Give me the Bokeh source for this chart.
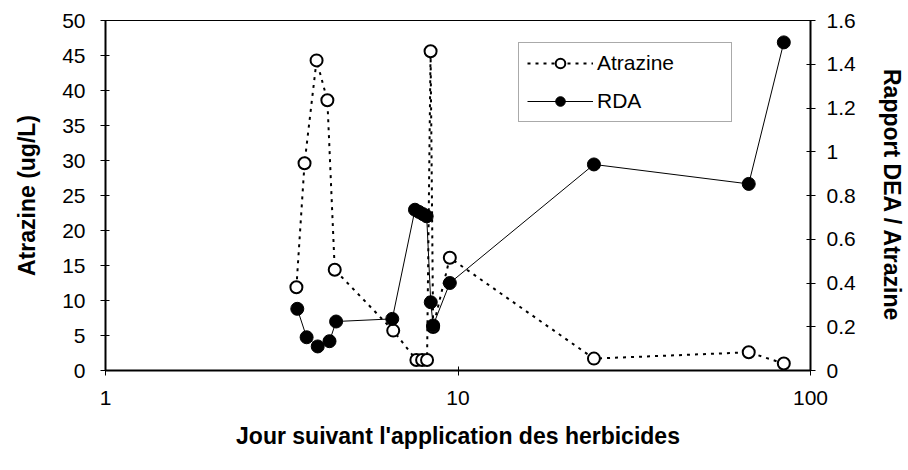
from bokeh.plotting import figure
from bokeh.models import Range1d, LinearAxis, FixedTicker, Legend, LegendItem
from bokeh.embed import file_html
from bokeh.resources import INLINE

# ---- data ----
atrazine_days = [3.48, 3.67, 3.97, 4.26, 4.47, 6.55, 7.62, 7.91, 8.17, 8.36, 8.50, 9.48, 24.3, 66.8, 84.0]
atrazine_conc = [11.9, 29.6, 44.3, 38.6, 14.4, 5.7, 1.5, 1.5, 1.5, 45.6, 6.2, 16.1, 1.7, 2.6, 1.0]

rda_days = [3.50, 3.72, 4.00, 4.32, 4.51, 6.51, 7.55, 7.75, 7.95, 8.15, 8.37, 8.50, 9.48, 24.3, 66.8, 84.0]
rda_ratio = [0.282, 0.152, 0.110, 0.134, 0.224, 0.236, 0.735, 0.725, 0.715, 0.705, 0.312, 0.206, 0.400, 0.942, 0.853, 1.50]

x_ticks = [1, 10, 100]
x_tick_labels = ["1", "10", "100"]
left_ticks = [0, 5, 10, 15, 20, 25, 30, 35, 40, 45, 50]
left_tick_labels = ["0", "5", "10", "15", "20", "25", "30", "35", "40", "45", "50"]
right_ticks = [0, 0.2, 0.4, 0.6, 0.8, 1.0, 1.2, 1.4, 1.6]
right_tick_labels = ["0", "0.2", "0.4", "0.6", "0.8", "1", "1.2", "1.4", "1.6"]

FONT = "Liberation Sans"
TICK_SIZE = "21px"
TITLE_SIZE = "23px"

p = figure(width=908, height=470, x_axis_type="log",
           x_range=Range1d(1, 100), y_range=Range1d(0, 50),
           output_backend="svg", toolbar_location=None,
           min_border_left=105, min_border_right=98,
           min_border_top=20, min_border_bottom=100)
p.extra_y_ranges = {"rda": Range1d(0, 1.6)}
p.xgrid.visible = False
p.ygrid.visible = False
p.outline_line_color = "black"
p.outline_line_width = 1
p.background_fill_color = "white"
p.border_fill_color = "white"

# x axis
xa = p.xaxis[0]
xa.ticker = FixedTicker(ticks=x_ticks)
xa.major_label_overrides = {t: l for t, l in zip(x_ticks, x_tick_labels)}
xa.axis_label = "Jour suivant l'application des herbicides"

# left axis
ya = p.yaxis[0]
ya.ticker = FixedTicker(ticks=left_ticks)
ya.major_label_overrides = {t: l for t, l in zip(left_ticks, left_tick_labels)}
ya.axis_label = "Atrazine (ug/L)"

# right axis
ra = LinearAxis(y_range_name="rda", axis_label="Rapport DEA / Atrazine")
ra.ticker = FixedTicker(ticks=right_ticks)
ra.major_label_overrides = {t: l for t, l in zip(right_ticks, right_tick_labels)}
p.add_layout(ra, "right")

for ax in (xa, ya, ra):
    ax.axis_line_color = "black"
    ax.axis_line_width = 2
    ax.major_tick_line_color = "black"
    ax.major_tick_in = 4
    ax.major_tick_out = 5
    ax.minor_tick_line_color = None
    ax.major_label_text_font = FONT
    ax.major_label_text_font_size = TICK_SIZE
    ax.major_label_text_color = "black"
    ax.axis_label_text_font = FONT
    ax.axis_label_text_font_size = TITLE_SIZE
    ax.axis_label_text_font_style = "bold"
    ax.axis_label_text_color = "black"

xa.major_label_standoff = 15
xa.axis_label_standoff = 15
ya.major_label_standoff = 15
ya.axis_label_standoff = 19
ra.major_label_standoff = 11
ra.axis_label_standoff = 20

# Atrazine series (dotted, open circles)
l_atr = p.line(atrazine_days, atrazine_conc, line_color="black", line_width=2, line_dash="3 5")
s_atr = p.scatter(atrazine_days, atrazine_conc, marker="circle", size=12,
                  fill_color="white", line_color="black", line_width=2)

# RDA series (solid, filled circles) on right axis
l_rda = p.line(rda_days, rda_ratio, line_color="black", line_width=1, y_range_name="rda")
s_rda = p.scatter(rda_days, rda_ratio, marker="circle", size=13,
                  fill_color="black", line_color="black", y_range_name="rda")

legend = Legend(items=[LegendItem(label="Atrazine", renderers=[l_atr, s_atr]),
                       LegendItem(label="RDA", renderers=[l_rda, s_rda])],
                location=(413, 248))
legend.label_text_font = FONT
legend.label_text_font_size = TICK_SIZE
legend.label_text_color = "black"
legend.glyph_width = 66
legend.glyph_height = 24
legend.label_standoff = 4
legend.label_width = 126
legend.spacing = 14
legend.padding = 8
legend.margin = 0
legend.border_line_color = "#555555"
legend.border_line_width = 1
legend.background_fill_color = "white"
legend.background_fill_alpha = 1
p.add_layout(legend)

open("out.html", "w").write(file_html(p, INLINE))
